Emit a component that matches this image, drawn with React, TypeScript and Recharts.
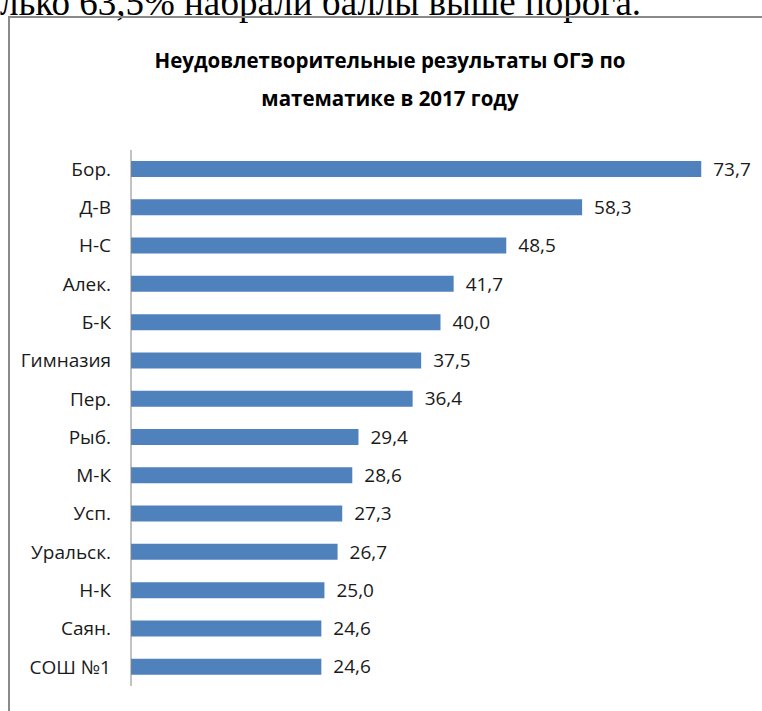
import { BarChart, Bar, XAxis, YAxis, LabelList } from 'recharts';

const schools = ['Бор.', 'Д-В', 'Н-С', 'Алек.', 'Б-К', 'Гимназия', 'Пер.', 'Рыб.', 'М-К', 'Усп.', 'Уральск.', 'Н-К', 'Саян.', 'СОШ №1'];
const failRates = [73.7, 58.3, 48.5, 41.7, 40.0, 37.5, 36.4, 29.4, 28.6, 27.3, 26.7, 25.0, 24.6, 24.6];

const data = schools.map((name, i) => ({ name, value: failRates[i] }));

const FONT = '"Open Sans", sans-serif';

// формат как в Excel: запятая вместо точки
const fmt = (v: number) => v.toFixed(1).replace('.', ',');

export default function App() {
  return (
    <div style={{ position: 'absolute', left: 0, top: 0, width: 762, height: 711, overflow: 'hidden', background: '#fff' }}>
      <div
        style={{
          position: 'absolute',
          left: 0,
          top: -19,
          fontFamily: '"Liberation Serif", "Times New Roman", serif',
          fontSize: 37,
          whiteSpace: 'nowrap',
          color: '#000',
        }}
      >
        лько 63,5% набрали баллы выше порога.
      </div>
      <div
        style={{
          position: 'absolute',
          left: 8,
          top: 16,
          width: 800,
          height: 760,
          border: '2px solid #8a8a8a',
        }}
      />
      <div
        style={{
          position: 'absolute',
          left: 0,
          top: 41,
          width: 780,
          textAlign: 'center',
          fontFamily: FONT,
          fontWeight: 'bold',
          fontSize: 20.5,
          lineHeight: '38px',
          color: '#000',
        }}
      >
        Неудовлетворительные результаты ОГЭ по
        <br />
        математике в 2017 году
      </div>
      <div style={{ position: 'absolute', left: 0, top: 0 }}>
        <BarChart
          width={762}
          height={711}
          data={data}
          layout="vertical"
          margin={{ top: 150, right: 12, bottom: 25, left: 0 }}
        >
          <XAxis type="number" domain={[0, 80]} hide />
          <YAxis
            type="category"
            dataKey="name"
            width={131}
            tickLine={false}
            tickSize={0}
            tickMargin={20}
            axisLine={{ stroke: '#868686' }}
            tick={{ fill: '#1a1a1a', fontSize: 19, fontFamily: FONT }}
            interval={0}
          />
          <Bar dataKey="value" fill="#4f81bd" barSize={16} isAnimationActive={false}>
            <LabelList
              dataKey="value"
              position="right"
              offset={12}
              formatter={(v: any) => fmt(Number(v))}
              style={{ fill: '#1a1a1a', fontSize: 19, fontFamily: FONT }}
            />
          </Bar>
        </BarChart>
      </div>
    </div>
  );
}
